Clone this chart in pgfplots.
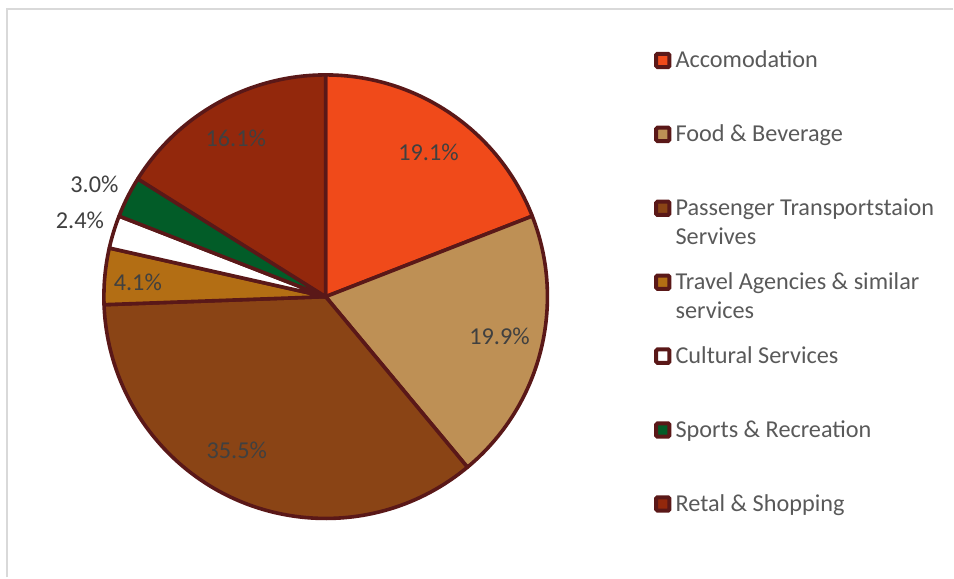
\documentclass[border=0pt]{standalone}
\usepackage{pgfplots}
\pgfplotsset{compat=1.18}
\usepackage{pgfplotstable}
\usepackage{fontspec}
\setmainfont{Carlito}
\definecolor{pie0}{HTML}{F04A1A}
\definecolor{pie1}{HTML}{BE9055}
\definecolor{pie2}{HTML}{8A4415}
\definecolor{pie3}{HTML}{B36E14}
\definecolor{pie4}{HTML}{FFFFFF}
\definecolor{pie5}{HTML}{025C28}
\definecolor{pie6}{HTML}{93280C}
\definecolor{pieline}{HTML}{5A1818}
\definecolor{lbltext}{HTML}{404040}
\definecolor{legtext}{HTML}{595959}
\definecolor{framegray}{HTML}{D9D9D9}

% value = share in percent; lx, ly = label centre in pixels (y from top)
\pgfplotstableread[col sep=comma]{
value,lx,ly
19.1,429,152
19.9,500,337
35.5,237,451
4.1,138,283
2.4,80,221
3.0,94.5,185
16.1,236,138
}\piedata

\xdef\pietotal{0}
\foreach \i in {0,...,6}{%
  \pgfplotstablegetelem{\i}{value}\of\piedata
  \pgfmathsetmacro\tmp{\pietotal+\pgfplotsretval}%
  \xdef\pietotal{\tmp}%
}
\xdef\piecum{0}
\foreach \i in {0,...,6}{%
  \pgfplotstablegetelem{\i}{value}\of\piedata
  \expandafter\xdef\csname pieV\i\endcsname{\pgfplotsretval}%
  \pgfmathsetmacro\st{90-360*(\piecum/\pietotal)}%
  \pgfmathsetmacro\newcum{\piecum+\pgfplotsretval}%
  \pgfmathsetmacro\en{90-360*(\newcum/\pietotal)}%
  \expandafter\xdef\csname pieS\i\endcsname{\st}%
  \expandafter\xdef\csname pieE\i\endcsname{\en}%
  \xdef\piecum{\newcum}%
  \pgfplotstablegetelem{\i}{lx}\of\piedata
  \expandafter\xdef\csname pieX\i\endcsname{\pgfplotsretval}%
  \pgfplotstablegetelem{\i}{ly}\of\piedata
  \pgfmathsetmacro\yy{578-\pgfplotsretval}%
  \expandafter\xdef\csname pieY\i\endcsname{\yy}%
}

\begin{document}
\begin{tikzpicture}
\begin{axis}[
  x=0.75pt, y=0.75pt,
  xmin=0, xmax=954, ymin=0, ymax=578,
  hide axis, clip=false, disabledatascaling,
  anchor=origin, at={(0,0)}
]
\path (axis cs:0,0) rectangle (axis cs:954,578);
\draw[framegray, line width=1.5pt] (axis cs:7.5,0) -- (axis cs:7.5,569) -- (axis cs:954,569);
\pgfplotsinvokeforeach{0,...,6}{%
  \filldraw[fill=pie#1, draw=pieline, line width=2.7pt, line join=round]
    (axis cs:326,281) -- ++(\csname pieS#1\endcsname:166.5pt)
    arc[start angle=\csname pieS#1\endcsname, end angle=\csname pieE#1\endcsname, radius=166.5pt] -- cycle;
}
\pgfplotsinvokeforeach{0,...,6}{%
  \node[text=lbltext, font=\fontsize{18.2}{21}\selectfont, inner sep=0pt]
    at (axis cs:\csname pieX#1\endcsname,\csname pieY#1\endcsname) {\csname pieV#1\endcsname\%};
}
% legend
\foreach \c/\yc in {0/60.5, 1/134.5, 2/208.5, 3/282.5, 4/356.5, 5/430.5, 6/504.5}{%
  \edef\temp{\noexpand\node[draw=pieline, fill=pie\c, line width=3pt, minimum size=10pt, inner sep=0pt, rounded corners=1pt] at (axis cs:663.5,{578-\yc}) {};}\temp
}
\foreach \yb/\txt in {68/Accomodation, 142/Food \& Beverage, 216/Passenger Transportstaion, 245/Servives, 290/Travel Agencies \& similar, 319/services, 364/Cultural Services, 438/Sports \& Recreation, 512/Retal \& Shopping}{%
  \edef\temp{\noexpand\node[anchor=base west, text=legtext, font=\noexpand\fontsize{18.2}{21}\noexpand\selectfont, inner sep=0pt] at (axis cs:676,{578-\yb}) {\unexpanded\expandafter{\txt}};}\temp
}
\end{axis}
\end{tikzpicture}
\end{document}
